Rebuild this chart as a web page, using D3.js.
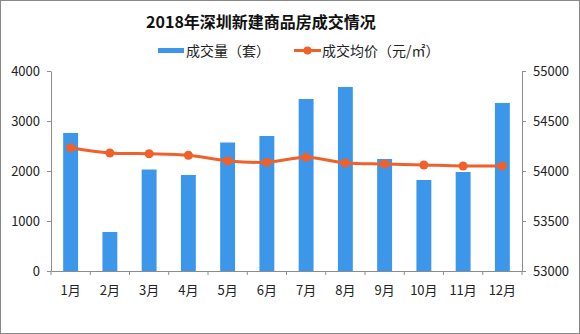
<!DOCTYPE html>
<html><head><meta charset="utf-8">
<script src="https://cdn.jsdelivr.net/npm/d3@7"></script>
<style>body{margin:0;background:#fff}svg{display:block}</style>
</head><body>
<script>
const months = ["1月","2月","3月","4月","5月","6月","7月","8月","9月","10月","11月","12月"];
const volume = [2760, 780, 2030, 1920, 2570, 2700, 3440, 3680, 2240, 1820, 1980, 3360];
const price = [54233, 54180, 54173, 54157, 54103, 54087, 54137, 54080, 54070, 54060, 54050, 54050];
const leftTicks = [0, 1000, 2000, 3000, 4000];
const rightTicks = [53000, 53500, 54000, 54500, 55000];
const title = "2018年深圳新建商品房成交情况";
const seriesNames = ["成交量（套）", "成交均价（元/㎡）"];

const W = 580, H = 334;
const m = {l: 51, r: 58, t: 71, b: 63};
const font = "'Noto Sans CJK SC', 'DejaVu Sans', sans-serif";
const blue = "#3C97EB", orange = "#F0602A", axisC = "#8c8c8c";

const svg = d3.select("body").append("svg").attr("width", W).attr("height", H);
svg.append("rect").attr("x",0.5).attr("y",0.5).attr("width",W-1).attr("height",H-1)
  .attr("fill","#fff").attr("stroke","#888");

const x = d3.scaleBand().domain(months).range([m.l, W - m.r]).paddingInner(0.62).paddingOuter(0.31);
const yL = d3.scaleLinear().domain([0, 4000]).range([H - m.b, m.t]);
const yR = d3.scaleLinear().domain([53000, 55000]).range([H - m.b, m.t]);

// bars
svg.append("g").selectAll("rect").data(volume).join("rect")
  .attr("x", (d,i) => x(months[i])).attr("width", x.bandwidth())
  .attr("y", d => yL(d)).attr("height", d => yL(0) - yL(d)).attr("fill", blue);

// axes
function styleAxis(g){
  g.select(".domain").attr("stroke", axisC);
  g.selectAll(".tick line").attr("stroke", axisC);
  g.selectAll("text").attr("font-family", font).attr("font-size", 13).attr("fill", "#222");
}
svg.append("g").attr("transform", `translate(${m.l},0)`)
  .call(d3.axisLeft(yL).tickValues(leftTicks).tickFormat(d3.format("d")).tickSize(4).tickSizeOuter(0).tickPadding(7))
  .call(styleAxis);
svg.append("g").attr("transform", `translate(${W - m.r},0)`)
  .call(d3.axisRight(yR).tickValues(rightTicks).tickFormat(d3.format("d")).tickSize(4).tickSizeOuter(0).tickPadding(7))
  .call(styleAxis);
const xg = svg.append("g").attr("transform", `translate(0,${H - m.b})`)
  .call(d3.axisBottom(x).tickSize(0).tickSizeOuter(0).tickPadding(15))
  .call(styleAxis);
// ticks at band boundaries
const bounds = d3.range(months.length + 1).map(i => m.l + (W - m.l - m.r) * i / months.length);
xg.selectAll(".bt").data(bounds).join("line").attr("class","bt")
  .attr("x1", d => d).attr("x2", d => d).attr("y1", 0).attr("y2", 4).attr("stroke", axisC);

// line
const cx = (i) => x(months[i]) + x.bandwidth()/2;
const line = d3.line().x((d,i) => cx(i)).y(d => yR(d)).curve(d3.curveCatmullRom.alpha(0.5));
svg.append("path").datum(price).attr("d", line).attr("fill","none")
  .attr("stroke", orange).attr("stroke-width", 3);
svg.append("g").selectAll("circle").data(price).join("circle")
  .attr("cx", (d,i) => cx(i)).attr("cy", d => yR(d)).attr("r", 4.5).attr("fill", orange);

// title
svg.append("text").attr("x", 261).attr("y", 28).attr("text-anchor","middle")
  .attr("font-family", font).attr("font-weight","bold").attr("font-size", 16).attr("fill","#111")
  .text(title);

// legend
const lg = svg.append("g").attr("font-family", font).attr("font-size", 14).attr("fill","#222");
lg.append("rect").attr("x", 158).attr("y", 48).attr("width", 26).attr("height", 5).attr("fill", blue);
lg.append("text").attr("x", 186).attr("y", 56).text(seriesNames[0]);
lg.append("line").attr("x1", 294).attr("x2", 321).attr("y1", 50.5).attr("y2", 50.5)
  .attr("stroke", orange).attr("stroke-width", 3);
lg.append("circle").attr("cx", 307.5).attr("cy", 50.5).attr("r", 4).attr("fill", orange);
lg.append("text").attr("x", 322).attr("y", 56).text(seriesNames[1]);
</script>
</body></html>
